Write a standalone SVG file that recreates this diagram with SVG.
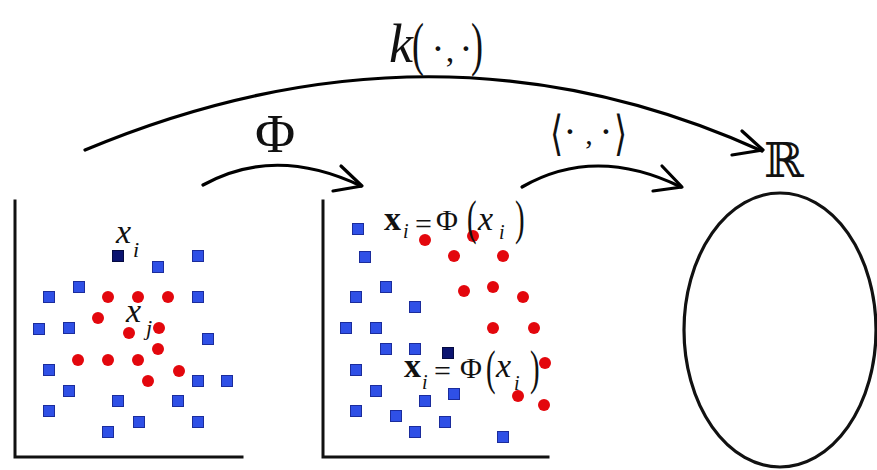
<svg xmlns="http://www.w3.org/2000/svg" width="877" height="470" viewBox="0 0 877 470">
<style>
.ax{stroke:#111;stroke-width:3;fill:none;stroke-linecap:square}
.sq{fill:#2f50e6;stroke:#1b2c9c;stroke-width:1}
.sqd{fill:#0b1470;stroke:#050a40;stroke-width:1}
.dot{fill:#e3070d}
.con{stroke:#000;stroke-width:3.2;fill:none;stroke-linecap:round;stroke-linejoin:round}
.t{font-family:"Liberation Serif","Times New Roman",serif;fill:#111}
.it{font-style:italic}
.bd{font-weight:bold}
.m{font-family:"DejaVu Serif","DejaVu Sans",serif;fill:#111}
</style>
<rect width="877" height="470" fill="#fff"/>

<g id="input-space">
  <polyline class="ax" points="15,201 15,457 242,457"/>
  <g>
    <rect class="sq" x="152.5" y="261.5" width="11" height="11"/>
    <rect class="sq" x="192.5" y="250.5" width="11" height="11"/>
    <rect class="sq" x="73.5" y="281.5" width="11" height="11"/>
    <rect class="sq" x="43.5" y="291.5" width="11" height="11"/>
    <rect class="sq" x="192.5" y="291.5" width="11" height="11"/>
    <rect class="sq" x="33.5" y="323.5" width="11" height="11"/>
    <rect class="sq" x="63.5" y="322.5" width="11" height="11"/>
    <rect class="sq" x="202.5" y="333.5" width="11" height="11"/>
    <rect class="sq" x="43.5" y="364.5" width="11" height="11"/>
    <rect class="sq" x="192.5" y="375.5" width="11" height="11"/>
    <rect class="sq" x="221.5" y="375.5" width="11" height="11"/>
    <rect class="sq" x="63.5" y="385.5" width="11" height="11"/>
    <rect class="sq" x="112.5" y="395.5" width="11" height="11"/>
    <rect class="sq" x="172.5" y="395.5" width="11" height="11"/>
    <rect class="sq" x="43.5" y="405.5" width="11" height="11"/>
    <rect class="sq" x="133.5" y="416.5" width="11" height="11"/>
    <rect class="sq" x="192.5" y="416.5" width="11" height="11"/>
    <rect class="sq" x="102.5" y="426.5" width="11" height="11"/>
    <rect class="sqd" x="112.5" y="250.5" width="11" height="11"/>
  </g>
  <g>
    <circle class="dot" cx="108" cy="297" r="6"/>
    <circle class="dot" cx="138" cy="297" r="6"/>
    <circle class="dot" cx="168" cy="297" r="6"/>
    <circle class="dot" cx="98" cy="318" r="6"/>
    <circle class="dot" cx="129" cy="333" r="6"/>
    <circle class="dot" cx="159" cy="328" r="6"/>
    <circle class="dot" cx="158" cy="349" r="6"/>
    <circle class="dot" cx="78" cy="360" r="6"/>
    <circle class="dot" cx="108" cy="360" r="6"/>
    <circle class="dot" cx="138" cy="360" r="6"/>
    <circle class="dot" cx="179" cy="371" r="6"/>
    <circle class="dot" cx="148" cy="381" r="6"/>
  </g>
  <text class="t it" x="116" y="243" font-size="34">x</text>
  <text class="t it" x="133" y="257" font-size="22">i</text>
  <text class="t it" x="126" y="322" font-size="34">x</text>
  <text class="t it" x="146" y="335" font-size="22">j</text>
</g>

<g id="feature-space">
  <polyline class="ax" points="323,201 323,457 548,457"/>
  <g>
    <rect class="sq" x="352.5" y="223.5" width="11" height="11"/>
    <rect class="sq" x="359.5" y="251.5" width="11" height="11"/>
    <rect class="sq" x="380.5" y="281.5" width="11" height="11"/>
    <rect class="sq" x="350.5" y="291.5" width="11" height="11"/>
    <rect class="sq" x="409.5" y="301.5" width="11" height="11"/>
    <rect class="sq" x="340.5" y="322.5" width="11" height="11"/>
    <rect class="sq" x="370.5" y="322.5" width="11" height="11"/>
    <rect class="sq" x="380.5" y="343.5" width="11" height="11"/>
    <rect class="sq" x="409.5" y="343.5" width="11" height="11"/>
    <rect class="sq" x="350.5" y="364.5" width="11" height="11"/>
    <rect class="sq" x="370.5" y="385.5" width="11" height="11"/>
    <rect class="sq" x="419.5" y="395.5" width="11" height="11"/>
    <rect class="sq" x="448.5" y="388.5" width="11" height="11"/>
    <rect class="sq" x="350.5" y="405.5" width="11" height="11"/>
    <rect class="sq" x="390.5" y="410.5" width="11" height="11"/>
    <rect class="sq" x="439.5" y="416.5" width="11" height="11"/>
    <rect class="sq" x="409.5" y="426.5" width="11" height="11"/>
    <rect class="sq" x="497.5" y="431.5" width="11" height="11"/>
    <rect class="sqd" x="442.5" y="347.5" width="11" height="11"/>
  </g>
  <g>
    <circle class="dot" cx="425" cy="240" r="6"/>
    <circle class="dot" cx="473" cy="236" r="6"/>
    <circle class="dot" cx="454" cy="256" r="6"/>
    <circle class="dot" cx="503" cy="256" r="6"/>
    <circle class="dot" cx="464" cy="291" r="6"/>
    <circle class="dot" cx="493" cy="287" r="6"/>
    <circle class="dot" cx="523" cy="297" r="6"/>
    <circle class="dot" cx="493" cy="328" r="6"/>
    <circle class="dot" cx="534" cy="328" r="6"/>
    <circle class="dot" cx="545" cy="363" r="6"/>
    <circle class="dot" cx="518" cy="396" r="6"/>
    <circle class="dot" cx="544" cy="405" r="6"/>
  </g>
  <g id="label-top">
    <text class="t bd" x="384" y="230" font-size="34">x</text>
    <text class="t it" x="403" y="238" font-size="20">i</text>
    <text class="t" x="415" y="234" font-size="30">=</text>
    <text class="t" x="436" y="230" font-size="30">Φ</text>
    <text class="t" transform="translate(467,234) scale(0.6,1)" font-size="48">(</text>
    <text class="t it" x="478" y="230" font-size="34">x</text>
    <text class="t it" x="499" y="239" font-size="20">i</text>
    <text class="t" transform="translate(515,234) scale(0.6,1)" font-size="48">)</text>
  </g>
  <g id="label-bottom">
    <text class="t bd" x="404" y="377" font-size="34">x</text>
    <text class="t it" x="422" y="389" font-size="20">i</text>
    <text class="t" x="434" y="381" font-size="30">=</text>
    <text class="t" x="460" y="378" font-size="30">Φ</text>
    <text class="t" transform="translate(486,384) scale(0.6,1)" font-size="48">(</text>
    <text class="t it" x="496" y="377" font-size="34">x</text>
    <text class="t it" x="514" y="390" font-size="20">i</text>
    <text class="t" transform="translate(530,384) scale(0.6,1)" font-size="48">)</text>
  </g>
</g>

<g id="real-space">
  <ellipse cx="780" cy="330" rx="96" ry="137" fill="none" stroke="#111" stroke-width="3.2"/>
  <text class="m" x="764" y="177" font-size="48">ℝ</text>
</g>

<g id="connectors">
  <path class="con" d="M85,150 Q436,3 762,151"/>
  <polyline class="con" points="742,131 763,150 732,155"/>
  <path class="con" d="M203,185 Q275,145 361,186"/>
  <polyline class="con" points="341,166 362,186 333,191"/>
  <path class="con" d="M522,187 Q595,145 681,187"/>
  <polyline class="con" points="662,166 682,187 653,191"/>
</g>

<g id="edge-labels">
  <text class="t it" x="389" y="62" font-size="54">k</text>
  <text class="t" transform="translate(412,64) scale(0.6,1)" font-size="60">(</text>
  <text class="t" x="438" y="62" font-size="40" text-anchor="middle">·</text>
  <text class="t" x="450" y="62" font-size="34" text-anchor="middle">,</text>
  <text class="t" x="466" y="62" font-size="40" text-anchor="middle">·</text>
  <text class="t" transform="translate(471,64) scale(0.6,1)" font-size="60">)</text>
  <text class="t" x="275" y="152" font-size="55" text-anchor="middle">Φ</text>
  <text class="m" transform="translate(550,150) scale(0.7,1)" font-size="48">⟨</text>
  <text class="t" x="570" y="145" font-size="40" text-anchor="middle">·</text>
  <text class="t" x="589" y="144" font-size="30" text-anchor="middle">,</text>
  <text class="t" x="606" y="145" font-size="40" text-anchor="middle">·</text>
  <text class="m" transform="translate(614,150) scale(0.7,1)" font-size="48">⟩</text>
</g>
</svg>
